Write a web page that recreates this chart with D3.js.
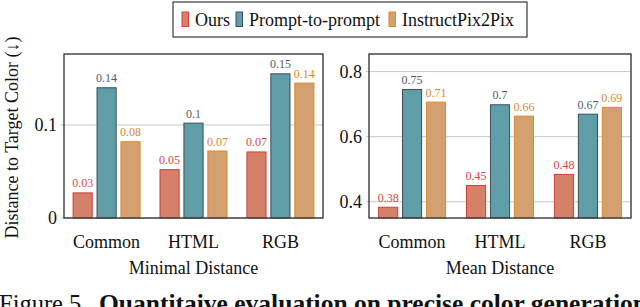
<!DOCTYPE html>
<html>
<head>
<meta charset="utf-8">
<script src="https://cdn.jsdelivr.net/npm/d3@7"></script>
<style>
  body { margin: 0; background: #fff; }
  svg { display: block; font-family: "Liberation Serif", "Times New Roman", serif; }
</style>
</head>
<body>
<svg id="chart" width="640" height="307"></svg>
<script>
// categories and series
const categories = ["Common", "HTML", "RGB"];
const series = ["Ours", "Prompt-to-prompt", "InstructPix2Pix"];

// minimal distance (bar heights and printed labels)
const minOurs = [0.027, 0.052, 0.071];
const minP2P = [0.140, 0.102, 0.155];
const minIP2P = [0.082, 0.072, 0.145];
const minOursLbl = ["0.03", "0.05", "0.07"];
const minP2PLbl = ["0.14", "0.1", "0.15"];
const minIP2PLbl = ["0.08", "0.07", "0.14"];

// mean distance
const meanOurs = [0.383, 0.450, 0.484];
const meanP2P = [0.745, 0.698, 0.669];
const meanIP2P = [0.706, 0.663, 0.690];
const meanOursLbl = ["0.38", "0.45", "0.48"];
const meanP2PLbl = ["0.75", "0.7", "0.67"];
const meanIP2PLbl = ["0.71", "0.66", "0.69"];

const minTicks = [0, 0.1];
const meanTicks = [0.4, 0.6, 0.8];

const fills = ["#d5816a", "#5f9ea7", "#d4a06f"];
const strokes = ["#d63c3c", "#3e4d5a", "#d98a2a"];
const labelColors = ["#d64848", "#4e5e6e", "#d98a2a"];

let svg = d3.select("#chart");

function panel(opts) {
    let x0 = opts.left, x1 = opts.right, y0 = 54, y1 = 218;
    let g = svg.append("g");

    let x = d3.scalePoint().domain(categories).range([x0, x1]).padding(0.49);
    let sub = d3.scaleBand().domain(series).range([-33.5, 33.5]).paddingInner(0.2);
    let y = d3.scaleLinear().domain(opts.domain).range([y1, y0]);

    // grid
    g.selectAll("line.grid")
        .data(opts.ticks)
        .enter().append("line")
        .attr("class", "grid")
        .attr("x1", x0 - 3).attr("x2", x1)
        .attr("y1", d => y(d)).attr("y2", d => y(d))
        .attr("stroke", "#c8c8c8").attr("stroke-width", 1);

    // y tick labels via axis
    let ax = g.append("g")
        .attr("transform", "translate(" + x0 + ",0)")
        .call(d3.axisLeft(y).tickValues(opts.ticks).tickSize(0).tickPadding(7).tickFormat(d3.format("~g")));
    ax.select(".domain").remove();
    ax.selectAll("text")
        .attr("font-family", "Liberation Serif, serif")
        .attr("font-size", 18).attr("fill", "#111");

    // bars
    let rows = [];
    categories.forEach((c, i) => {
        opts.values.forEach((vals, s) => {
            rows.push({cat: c, s: s, v: vals[i], lbl: opts.labels[s][i]});
        });
    });

    g.selectAll("rect.bar")
        .data(rows)
        .enter().append("rect")
        .attr("class", "bar")
        .attr("x", d => x(d.cat) + sub(series[d.s]))
        .attr("width", sub.bandwidth())
        .attr("y", d => y(d.v))
        .attr("height", d => y1 - y(d.v))
        .attr("fill", d => fills[d.s])
        .attr("stroke", d => strokes[d.s])
        .attr("stroke-width", 1);

    g.selectAll("text.val")
        .data(rows)
        .enter().append("text")
        .attr("class", "val")
        .attr("x", d => x(d.cat) + sub(series[d.s]) + sub.bandwidth() / 2)
        .attr("y", d => y(d.v) - 5.5)
        .attr("text-anchor", "middle")
        .attr("font-size", 12)
        .attr("fill", d => labelColors[d.s])
        .text(d => d.lbl);

    // frame
    g.append("rect")
        .attr("x", x0).attr("y", y0)
        .attr("width", x1 - x0).attr("height", y1 - y0)
        .attr("fill", "none").attr("stroke", "#3a3a3a").attr("stroke-width", 1.4);

    // x labels
    g.selectAll("text.cat")
        .data(categories)
        .enter().append("text")
        .attr("class", "cat")
        .attr("x", d => x(d)).attr("y", 248)
        .attr("text-anchor", "middle")
        .attr("font-size", 18).attr("fill", "#111")
        .text(d => d);

    g.append("text")
        .attr("x", (x0 + x1) / 2).attr("y", 273.5)
        .attr("text-anchor", "middle")
        .attr("font-size", 18).attr("fill", "#111")
        .text(opts.title);
}

panel({
    left: 64, right: 323, domain: [0, 0.1763], ticks: minTicks,
    values: [minOurs, minP2P, minIP2P],
    labels: [minOursLbl, minP2PLbl, minIP2PLbl],
    title: "Minimal Distance"
});
panel({
    left: 369, right: 631, domain: [0.35, 0.854], ticks: meanTicks,
    values: [meanOurs, meanP2P, meanIP2P],
    labels: [meanOursLbl, meanP2PLbl, meanIP2PLbl],
    title: "Mean Distance"
});

// y axis title
svg.append("text")
    .attr("transform", "translate(17.5,137.5) rotate(-90)")
    .attr("text-anchor", "middle")
    .attr("font-size", 18).attr("fill", "#111")
    .text("Distance to Target Color (\u2193)");

// legend
let leg = svg.append("g");
leg.append("rect")
    .attr("x", 173).attr("y", 2).attr("width", 354).attr("height", 35)
    .attr("fill", "#fff").attr("stroke", "#111").attr("stroke-width", 1);
let swatchX = [182, 236, 389];
series.forEach((s, i) => {
    leg.append("rect")
        .attr("x", swatchX[i]).attr("y", 12).attr("width", 6.5).attr("height", 14.5)
        .attr("fill", fills[i]).attr("stroke", strokes[i]).attr("stroke-width", 1);
    leg.append("text")
        .attr("x", swatchX[i] + 13).attr("y", 25.5)
        .attr("font-size", 18).attr("fill", "#111")
        .text(s);
});

// caption (cut at the bottom edge)
let cap = svg.append("g").attr("font-size", 24.5).attr("fill", "#111");
cap.append("text").attr("x", -1).attr("y", 311.5).text("Figure 5.");
cap.append("text").attr("x", 99).attr("y", 311.5).attr("font-weight", "bold")
    .attr("font-size", 25.5)
    .text("Quantitaive evaluation on precise color generation");
</script>
</body>
</html>
